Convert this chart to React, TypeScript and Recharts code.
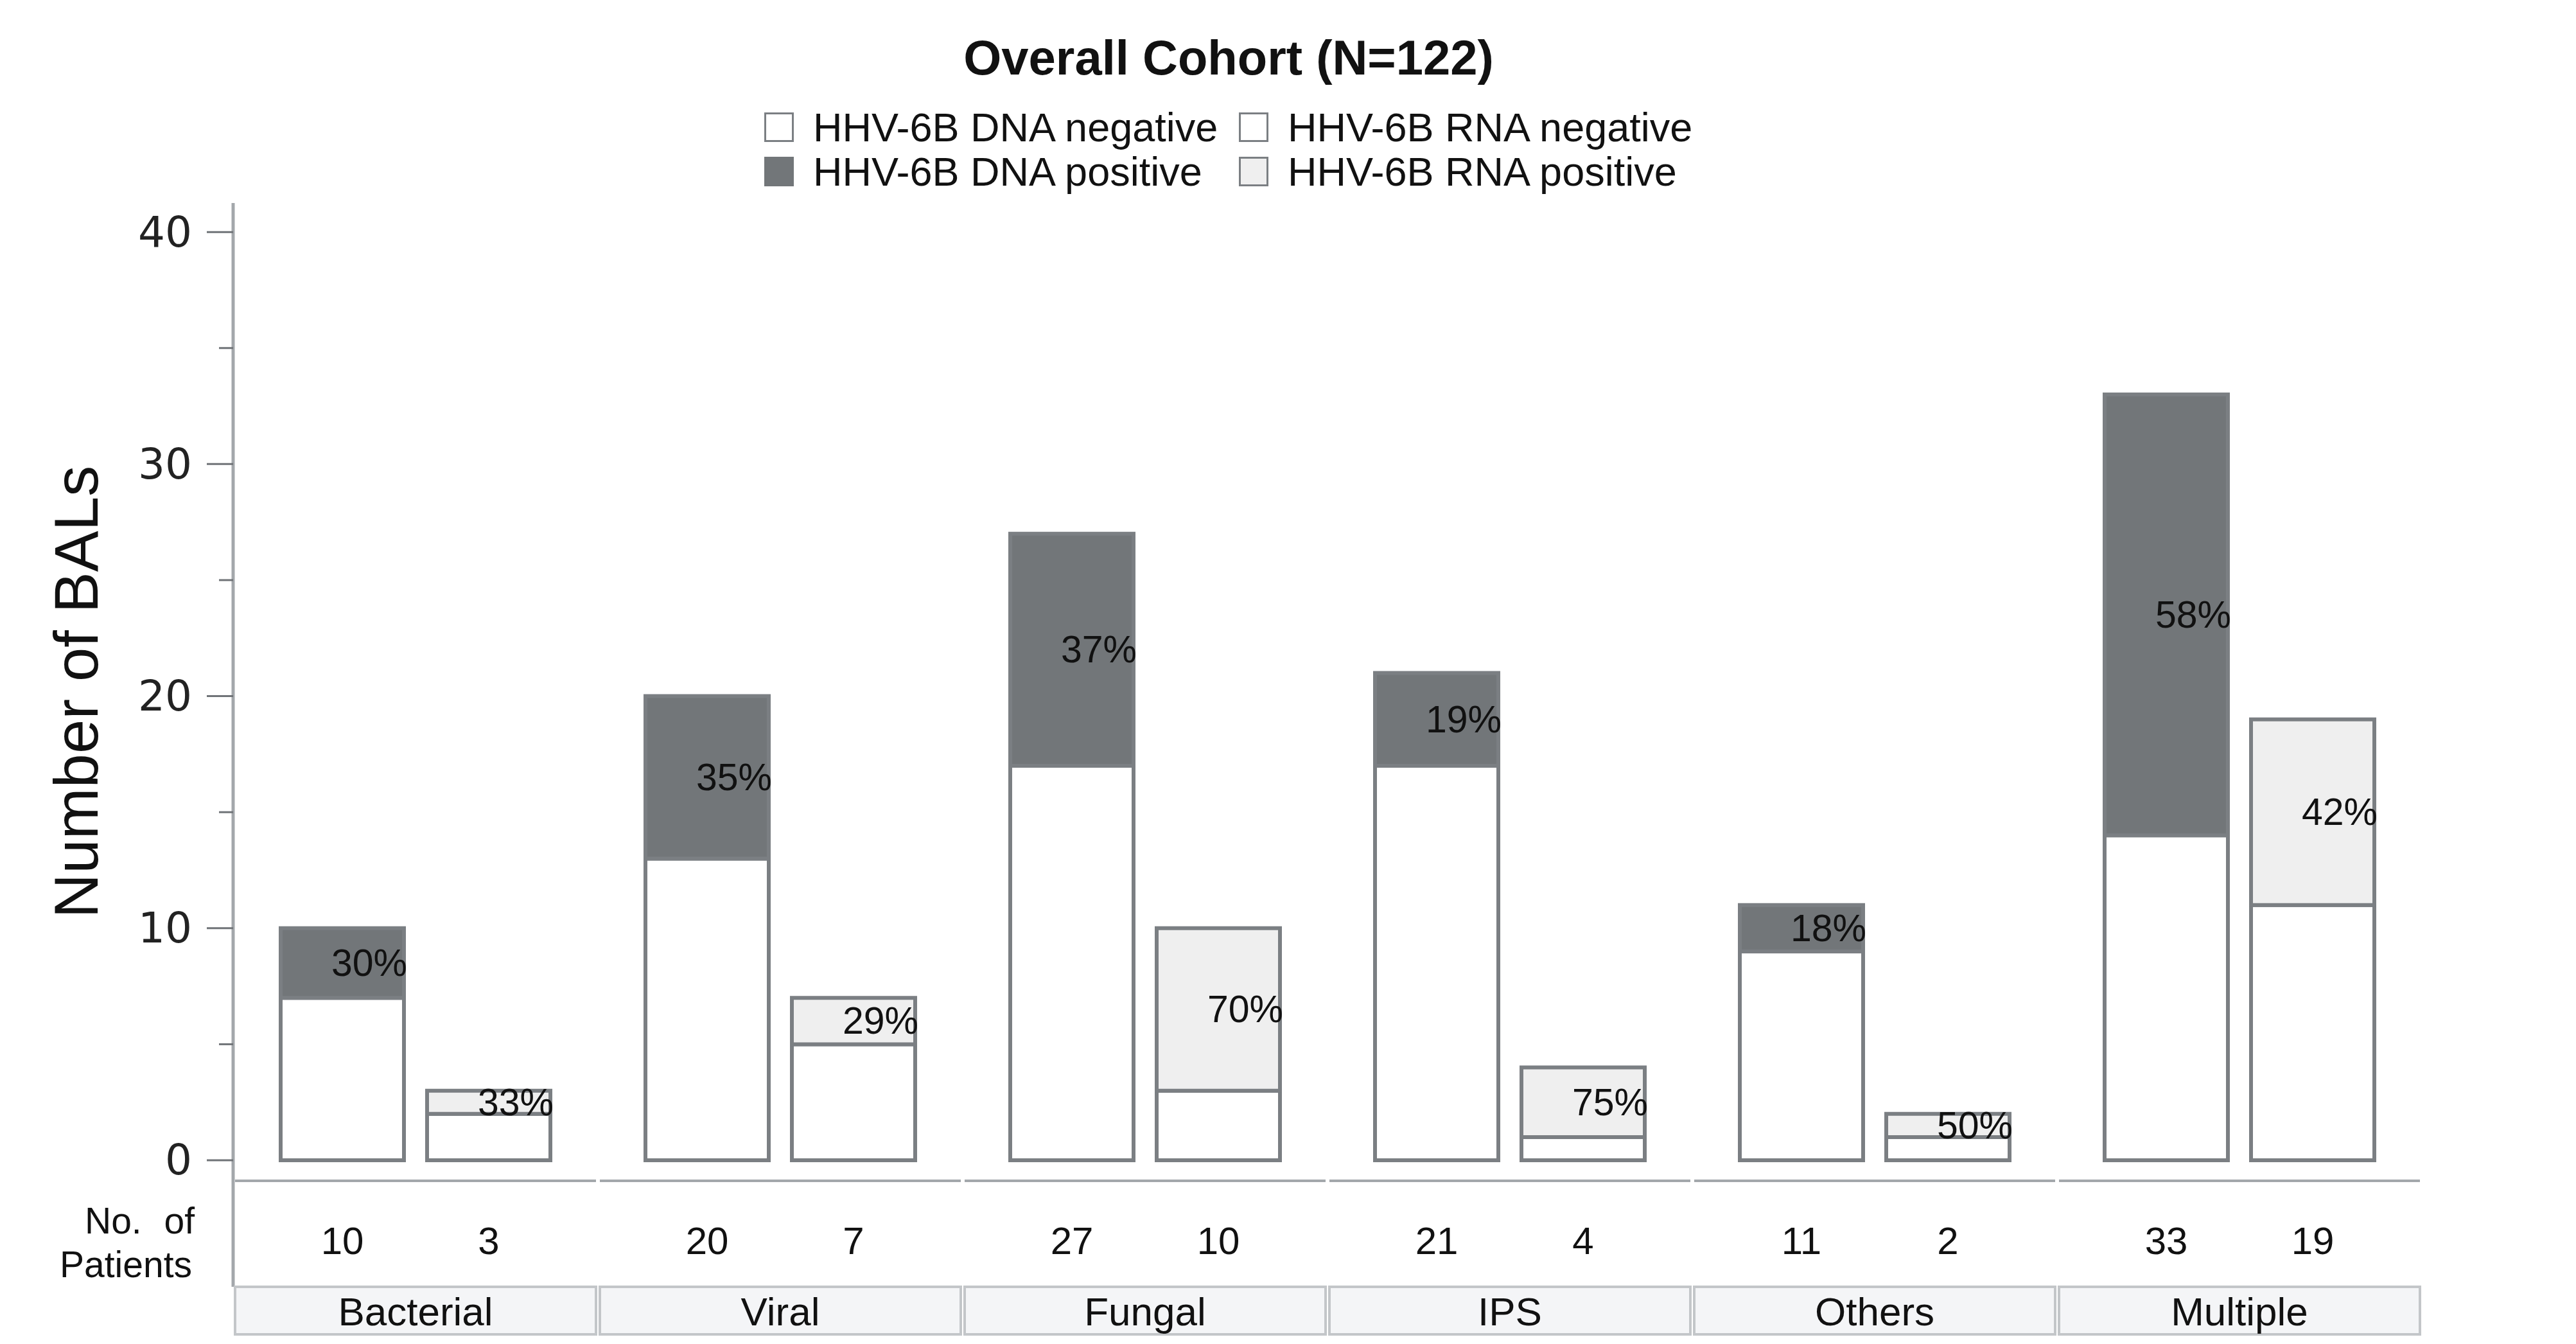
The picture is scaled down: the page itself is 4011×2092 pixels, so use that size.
import { BarChart, Bar, XAxis, YAxis, Legend, LabelList } from 'recharts'

const categories = ['Bacterial', 'Viral', 'Fungal', 'IPS', 'Others', 'Multiple']
const dnaNegative = [7, 13, 17, 17, 9, 14]
const dnaPositive = [3, 7, 10, 4, 2, 19]
const rnaNegative = [2, 5, 3, 1, 1, 11]
const rnaPositive = [1, 2, 7, 3, 1, 8]
const dnaPercent = ['30%', '35%', '37%', '19%', '18%', '58%']
const rnaPercent = ['33%', '29%', '70%', '75%', '50%', '42%']
const yTicks = [0, 5, 10, 15, 20, 25, 30, 35, 40]

const W = 4011
const H = 2092
const TOP = 316
const AXIS_X = 363
const RIGHT = 240
const PLOT_BOTTOM = 1838
const BAND = (W - AXIS_X - RIGHT) / categories.length
const CAT_GAP = 74
const BAR_GAP = 36
const BAR_W = Math.floor((BAND - 2 * CAT_GAP - BAR_GAP) / 2)

const DARK = '#727679'
const LIGHT = '#efefef'
const STROKE = '#7b7f83'
const AXIS = '#a3a7ab'
const INK = '#111'
const ARIAL = '"Liberation Sans", Arial, sans-serif'
const WIDE = '"DejaVu Sans", Verdana, sans-serif'

const rows = categories.map((name, i) => ({
  name,
  dnaNeg: dnaNegative[i],
  dnaPos: dnaPositive[i],
  rnaNeg: rnaNegative[i],
  rnaPos: rnaPositive[i],
  dnaPct: dnaPercent[i],
  rnaPct: rnaPercent[i],
  dnaTotal: dnaNegative[i] + dnaPositive[i],
  rnaTotal: rnaNegative[i] + rnaPositive[i],
}))

const legendItems = [
  { label: 'HHV-6B DNA negative', fill: '#fff', border: STROKE },
  { label: 'HHV-6B RNA negative', fill: '#fff', border: STROKE },
  { label: 'HHV-6B DNA positive', fill: DARK, border: DARK },
  { label: 'HHV-6B RNA positive', fill: LIGHT, border: STROKE },
]

const LegendBox = () => (
  <div style={{ display: 'grid', gridTemplateColumns: '739px auto', gridAutoRows: '69px' }}>
    {legendItems.map(it => (
      <div key={it.label} style={{ display: 'flex', alignItems: 'center' }}>
        <div style={{
          width: 40, height: 40, background: it.fill, border: `3px solid ${it.border}`,
          marginRight: 30, flexShrink: 0,
        }} />
        <span style={{ fontFamily: ARIAL, fontSize: 63, color: INK, whiteSpace: 'nowrap' }}>{it.label}</span>
      </div>
    ))}
  </div>
)

const YTick = (props: any) => {
  const { x, y, payload } = props
  const major = payload.value % 10 === 0
  return (
    <g>
      <line x1={x - (major ? 41 : 22)} x2={x} y1={y} y2={y} stroke="#6f7377" strokeWidth={3} />
      {major && (
        <text x={x - 64} y={y} textAnchor="end" dominantBaseline="central"
          fontFamily={WIDE} fontSize={66} fill="#222">{payload.value}</text>
      )}
    </g>
  )
}

const XTick = (props: any) => {
  const { x, y, index, payload } = props
  const row = rows[index]
  const left = x - BAND / 2
  const dnaX = left + CAT_GAP + BAR_W / 2
  const rnaX = left + CAT_GAP + BAR_W + BAR_GAP + BAR_W / 2
  return (
    <g>
      <line x1={left + 3} x2={left + BAND - 3} y1={y} y2={y} stroke={AXIS} strokeWidth={4} />
      {index === 0 && (
        <>
          <line x1={left} x2={left} y1={y} y2={y + 165} stroke={AXIS} strokeWidth={5} />
          <text x={left - 231} y={y + 62} textAnchor="start" dominantBaseline="central"
            fontFamily={ARIAL} fontSize={57} fill={INK}>No.</text>
          <text x={left - 60} y={y + 62} textAnchor="end" dominantBaseline="central"
            fontFamily={ARIAL} fontSize={57} fill={INK}>of</text>
          <text x={left - 64} y={y + 130} textAnchor="end" dominantBaseline="central"
            fontFamily={ARIAL} fontSize={57} fill={INK}>Patients</text>
        </>
      )}
      <text x={dnaX} y={y + 93} textAnchor="middle" dominantBaseline="central"
        fontFamily={ARIAL} fontSize={60} fill={INK}>{row.dnaTotal}</text>
      <text x={rnaX} y={y + 93} textAnchor="middle" dominantBaseline="central"
        fontFamily={ARIAL} fontSize={60} fill={INK}>{row.rnaTotal}</text>
      <rect x={left + 3} y={y + 165} width={BAND - 6} height={74}
        fill="#f4f5f7" stroke="#c3c6c9" strokeWidth={4} />
      <text x={x} y={y + 203} textAnchor="middle" dominantBaseline="central"
        fontFamily={ARIAL} fontSize={62} fill={INK}>{payload.value}</text>
    </g>
  )
}

const PctLabel = (props: any) => {
  const x = Number(props.x), y = Number(props.y)
  const width = Number(props.width), height = Number(props.height)
  return (
    <text x={x + width + 5} y={y + height / 2} textAnchor="end" dominantBaseline="central"
      fontFamily={ARIAL} fontSize={59} fill={INK}>{props.value}</text>
  )
}

const YLabel = (props: any) => {
  const vb = props.viewBox || { y: TOP, height: PLOT_BOTTOM - TOP }
  const cx = 118
  const cy = vb.y + vb.height / 2
  return (
    <text x={cx} y={cy} transform={`rotate(-90 ${cx} ${cy})`} textAnchor="middle"
      dominantBaseline="central" fontFamily={ARIAL} fontSize={96} fill={INK}>Number of BALs</text>
  )
}

export default function App() {
  return (
    <div style={{ position: 'absolute', left: 0, top: 0, width: W, height: H, background: '#fff' }}>
      <div style={{
        position: 'absolute', left: 0, width: 3826, top: 50, textAlign: 'center',
        fontFamily: ARIAL, fontWeight: 'bold', fontSize: 76, lineHeight: '80px', color: INK,
      }}>Overall Cohort (N=122)</div>
      <BarChart width={W} height={H} data={rows}
        margin={{ top: TOP, left: 0, right: RIGHT, bottom: 0 }}
        barCategoryGap={CAT_GAP} barGap={BAR_GAP}>
        <XAxis dataKey="name" type="category" height={H - PLOT_BOTTOM} axisLine={false}
          tickLine={false} tickSize={0} tickMargin={0} interval={0} tick={<XTick />} />
        <YAxis type="number" width={AXIS_X} domain={[-0.886, 41.25]} allowDataOverflow
          ticks={yTicks} interval={0} tick={<YTick />} tickLine={false} tickSize={0} tickMargin={0}
          axisLine={{ stroke: AXIS, strokeWidth: 5 }} label={{ content: YLabel }} />
        <Legend verticalAlign="middle" align="center" layout="horizontal"
          wrapperStyle={{ top: 163, left: 1190, width: 1600 }} content={<LegendBox />} />
        <Bar dataKey="dnaNeg" stackId="dna" fill="#fff" stroke={STROKE} strokeWidth={6}
          isAnimationActive={false} />
        <Bar dataKey="dnaPos" stackId="dna" fill={DARK} stroke={STROKE} strokeWidth={6}
          isAnimationActive={false}>
          <LabelList dataKey="dnaPct" content={<PctLabel />} />
        </Bar>
        <Bar dataKey="rnaNeg" stackId="rna" fill="#fff" stroke={STROKE} strokeWidth={6}
          isAnimationActive={false} />
        <Bar dataKey="rnaPos" stackId="rna" fill={LIGHT} stroke={STROKE} strokeWidth={6}
          isAnimationActive={false}>
          <LabelList dataKey="rnaPct" content={<PctLabel />} />
        </Bar>
      </BarChart>
    </div>
  )
}
